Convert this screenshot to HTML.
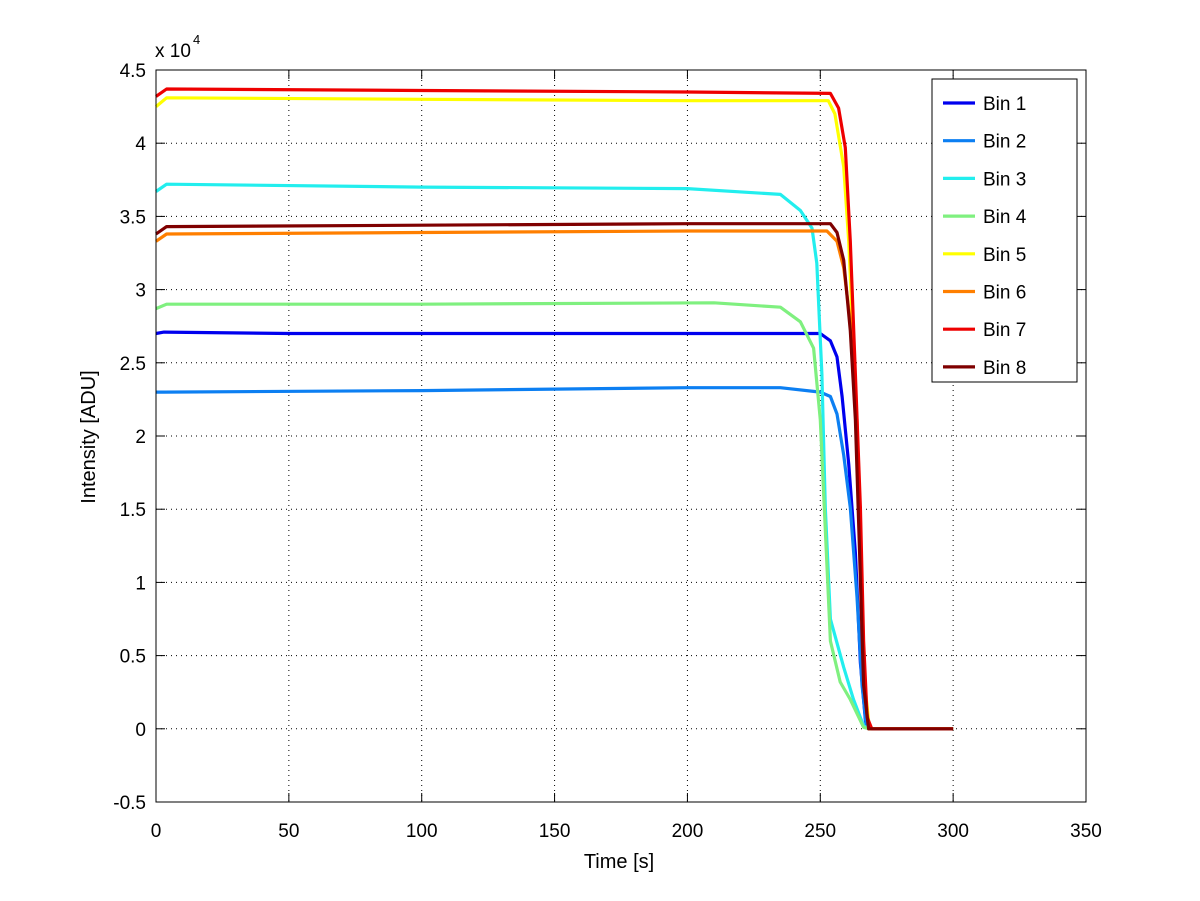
<!DOCTYPE html>
<html><head><meta charset="utf-8"><style>
body{margin:0;background:#fff;}
svg{display:block;font-family:"Liberation Sans",sans-serif;}
</style></head><body>
<svg id="chart" width="1200" height="901" viewBox="0 0 1200 901" xmlns="http://www.w3.org/2000/svg">
<rect x="0" y="0" width="1200" height="901" fill="#fff"/>
<g id="grid"></g>
<g id="series"></g>
<g id="axes"></g>
<g id="legend"></g>
</svg>
<script>
const xTicks=[0,50,100,150,200,250,300,350];
const yTicks=[-0.5,0,0.5,1,1.5,2,2.5,3,3.5,4,4.5];
const yTickLabels=["-0.5","0","0.5","1","1.5","2","2.5","3","3.5","4","4.5"];
const seriesNames=["Bin 1","Bin 2","Bin 3","Bin 4","Bin 5","Bin 6","Bin 7","Bin 8"];
const seriesColors=["#0000ee","#0c7ff2","#22eeee","#7ff07f","#ffff00","#ff7f00","#ee0000","#7f0000"];
// time values (s) and intensities (x1e4 ADU)
const bin1T=[0,3,50,150,250,253.8,256.3,258.2,260.7,263.2,265.1,267,268.5,300];
const bin1V=[2.70,2.71,2.70,2.70,2.70,2.65,2.54,2.27,1.81,1.20,0.45,0.05,0,0];
const bin2T=[0,3,100,200,235,250,253.8,256.3,258.8,261.3,263.8,265.7,267.3,268.5,300];
const bin2V=[2.30,2.30,2.31,2.33,2.33,2.30,2.27,2.15,1.87,1.51,0.90,0.30,0.02,0,0];
const bin3T=[0,4,100,200,235,242.5,246.9,248.7,250.6,251.9,253.8,258.8,262.5,266.3,268.5,300];
const bin3V=[3.67,3.72,3.70,3.69,3.65,3.54,3.42,3.18,2.42,1.51,0.75,0.42,0.20,0.02,0,0];
const bin4T=[0,4,100,210,235,242.5,247.5,250,251.9,253.8,257.5,261.3,266.3,268.5,300];
const bin4V=[2.87,2.90,2.90,2.91,2.88,2.78,2.60,2.11,1.36,0.60,0.32,0.20,0.01,0,0];
const bin5T=[0,4,100,200,253,255.5,258.8,260.7,262.8,264.8,266.5,268.5,300];
const bin5V=[4.25,4.31,4.30,4.29,4.29,4.20,3.84,3.33,2.50,1.40,0.35,0,0];
const bin6T=[0,4,100,200,252.5,256.3,258.8,261.3,263.8,265.2,266.5,268.3,300];
const bin6V=[3.33,3.38,3.39,3.40,3.40,3.33,3.15,2.78,2.11,1.10,0.30,0,0];
const bin7T=[0,4,100,200,253.8,256.9,259.4,261.3,263.2,265.1,266.3,267.6,269.4,300];
const bin7V=[4.32,4.37,4.36,4.35,4.34,4.24,3.97,3.33,2.42,1.51,0.60,0.08,0,0];
const bin8T=[0,4,100,200,253.8,256.3,258.8,261.3,263.2,264.8,266.3,268.2,300];
const bin8V=[3.38,3.43,3.44,3.45,3.45,3.39,3.20,2.72,2.11,1.20,0.30,0,0];
const allT=[bin1T,bin2T,bin3T,bin4T,bin5T,bin6T,bin7T,bin8T];
const allV=[bin1V,bin2V,bin3V,bin4V,bin5V,bin6V,bin7V,bin8V];

const NS="http://www.w3.org/2000/svg";
const L=156,R=1086,T=70,B=802;
const xMin=0,xMax=350,yMin=-0.5,yMax=4.5;
function sx(v){return L+(v-xMin)/(xMax-xMin)*(R-L);}
function sy(v){return B-(v-yMin)/(yMax-yMin)*(B-T);}
function mk(tag,attrs,parent){const e=document.createElementNS(NS,tag);for(const k in attrs)e.setAttribute(k,attrs[k]);parent.appendChild(e);return e;}
const grid=document.getElementById('grid'),axes=document.getElementById('axes'),ser=document.getElementById('series'),leg=document.getElementById('legend');

xTicks.forEach((t,i)=>{
  const x=sx(t);
  if(i>0&&i<xTicks.length-1){const g=mk('line',{x1:x,y1:T,x2:x,y2:B,stroke:'#000','stroke-width':1,'stroke-dasharray':'1,4'},grid);
  
  }
  mk('line',{x1:x,y1:B,x2:x,y2:B-9,stroke:'#000'},axes);
  mk('line',{x1:x,y1:T,x2:x,y2:T+9,stroke:'#000'},axes);
  const tx=mk('text',{x:x,y:837,'font-size':19,'text-anchor':'middle',fill:'#000'},axes);
  tx.textContent=String(t);
  
  
});
yTicks.forEach((t,i)=>{
  const y=sy(t);
  if(i>0&&i<yTicks.length-1){const g=mk('line',{x1:L,y1:y,x2:R,y2:y,stroke:'#000','stroke-width':1,'stroke-dasharray':'1,4'},grid);
  
  }
  mk('line',{x1:L,y1:y,x2:L+9,y2:y,stroke:'#000'},axes);
  mk('line',{x1:R,y1:y,x2:R-9,y2:y,stroke:'#000'},axes);
  const tx=mk('text',{x:146,y:y+7,'font-size':19,'text-anchor':'end',fill:'#000'},axes);
  tx.textContent=yTickLabels[i];
  
  
});
const frame=mk('rect',{x:L,y:T,width:R-L,height:B-T,fill:'none',stroke:'#000','stroke-width':1},axes);



allT.forEach((ts,i)=>{
  const pts=ts.map((t,j)=>sx(t).toFixed(1)+','+sy(allV[i][j]).toFixed(1)).join(' ');
  const p=mk('polyline',{points:pts,fill:'none',stroke:seriesColors[i],'stroke-width':3.2,'stroke-linejoin':'round'},ser);
  
  
});

const lb=mk('rect',{x:932,y:79,width:145,height:303,fill:'#fff',stroke:'#000'},leg);


seriesNames.forEach((n,i)=>{
  const y=103+i*37.7;
  const g=mk('g',{},leg);
  
  
  mk('line',{x1:943,y1:y,x2:975,y2:y,stroke:seriesColors[i],'stroke-width':3.2},g);
  const tx=mk('text',{x:983,y:y+7,'font-size':19,fill:'#000'},g);
  tx.textContent=n;
});

const xt=mk('text',{x:619,y:868,'font-size':20,'text-anchor':'middle',fill:'#000'},axes);
xt.textContent='Time [s]';


const yt=mk('text',{x:0,y:0,'font-size':20,'text-anchor':'middle',fill:'#000',transform:'translate(95,437) rotate(-90)'},axes);
yt.textContent='Intensity [ADU]';


const ex=mk('text',{x:155,y:57,'font-size':19,fill:'#000'},axes);
ex.textContent='x 10';


const ex2=mk('text',{x:193,y:44,'font-size':13,fill:'#000'},axes);
ex2.textContent='4';


</script>
</body></html>
